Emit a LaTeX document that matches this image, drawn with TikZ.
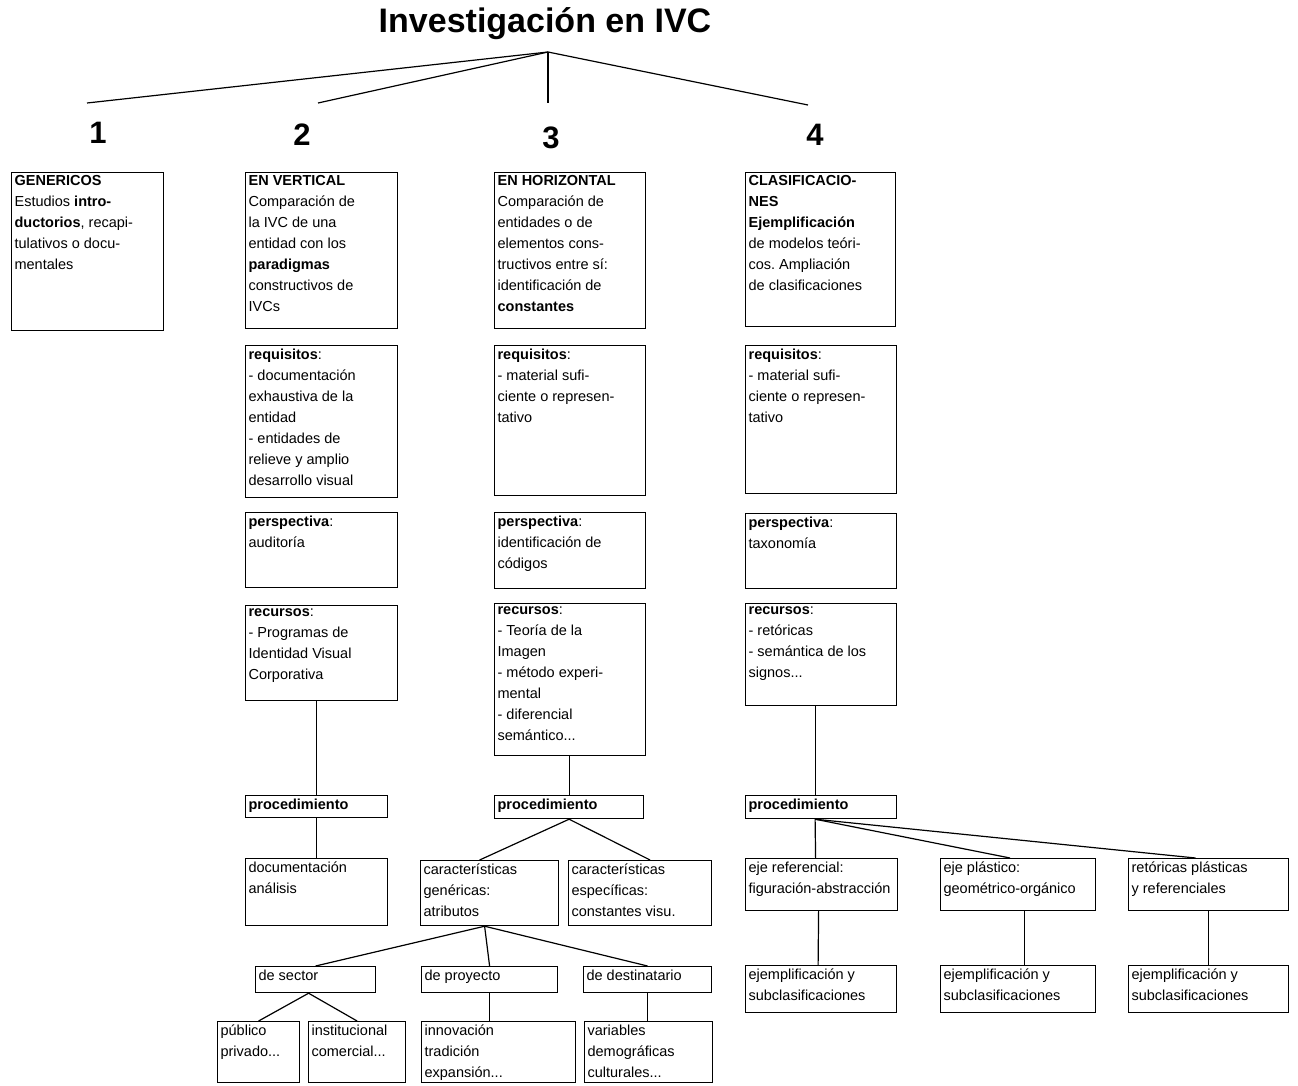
\documentclass[tikz,border=0pt]{standalone}
\usepackage{fontspec}
\setmainfont{Liberation Sans}
\newcommand{\cell}[3]{\parbox[t][#2pt][t]{#1pt}{\raggedright #3}}
\hbadness=10000
\frenchspacing

\begin{document}
\begin{tikzpicture}[x=1pt, y=-1pt, font=\fontsize{14.5}{21}\selectfont]
\tikzstyle{b} = [draw=black, line width=1.2pt, anchor=north west, inner xsep=3pt, inner ysep=3pt]
\tikzstyle{e} = [draw=black, line width=1.2pt]
\tikzstyle{num} = [font=\fontsize{31}{36}\selectfont\bfseries]

\useasboundingbox (0,0) rectangle (1298,1085);

\node[font=\fontsize{34}{40}\selectfont\bfseries] (top) at (545,24) {Investigación en IVC};
\coordinate (ap) at (548,52);
\coordinate (c1) at (87,103);
\coordinate (c2) at (318,103);
\coordinate (c3) at (548,103);
\coordinate (c4) at (808,105);
\node[num] (n1) at (98,133) {1};
\node[num] (n2) at (302,135) {2};
\node[num] (n3) at (551,138) {3};
\node[num] (n4) at (815,135) {4};

% 1
\node[b] (gen) at (11,172) {\cell{146}{152}{\textbf{GENERICOS}\\Estudios \textbf{intro-}\\\textbf{ductorios}, recapi-\\tulativos o docu-\\mentales}};

% 2
\node[b] (v0) at (245,172) {\cell{146}{150}{\textbf{EN VERTICAL}\\Comparación de\\la IVC de una\\entidad con los\\\textbf{paradigmas}\\constructivos de\\IVCs}};
\node[b] (vreq) at (245,345) {\cell{146}{146}{\textbf{requisitos}:\\- documentación\\exhaustiva de la\\entidad\\- entidades de\\relieve y amplio\\desarrollo visual}};
\node[b] (vper) at (245,512) {\cell{146}{69}{\textbf{perspectiva}:\\auditoría}};
\node[b] (vrec) at (245,605) {\cell{146}{89}{\textbf{recursos}:\\- Programas de\\Identidad Visual\\Corporativa}};
\node[b] (vproc) at (245,795) {\cell{136}{16}{\textbf{procedimiento}}};
\node[b] (vdoc) at (245,858) {\cell{136}{61}{documentación\\análisis}};

% 3
\node[b] (h0) at (494,172) {\cell{145}{150}{\textbf{EN HORIZONTAL}\\Comparación de\\entidades o de\\elementos cons-\\tructivos entre sí:\\identificación de\\\textbf{constantes}}};
\node[b] (hreq) at (494,345) {\cell{145}{144}{\textbf{requisitos}:\\- material sufi-\\ciente o represen-\\tativo}};
\node[b] (hper) at (494,512) {\cell{145}{70}{\textbf{perspectiva}:\\identificación de\\códigos}};
\node[b] (hrec) at (494,603) {\cell{145}{146}{\textbf{recursos}:\\- Teoría de la\\Imagen\\- método experi-\\mental\\- diferencial\\semántico...}};
\node[b] (hproc) at (494,795) {\cell{143}{17}{\textbf{procedimiento}}};
\node[b] (hgen) at (420,860) {\cell{132}{59}{características\\genéricas:\\atributos}};
\node[b] (hesp) at (568,860) {\cell{137}{59}{características\\específicas:\\constantes visu.}};
\node[b] (hsec) at (255,966) {\cell{114}{20}{de sector}};
\node[b] (hpro) at (421,966) {\cell{130}{20}{de proyecto}};
\node[b] (hdes) at (583,966) {\cell{122}{20}{de destinatario}};
\node[b] (hpub) at (217,1021) {\cell{76}{55}{público\\privado...}};
\node[b] (hins) at (308,1021) {\cell{91}{55}{institucional\\comercial...}};
\node[b] (hinn) at (421,1021) {\cell{148}{55}{innovación\\tradición\\expansión...}};
\node[b] (hvar) at (584,1021) {\cell{122}{55}{variables\\demográficas\\culturales...}};

% 4
\node[b] (k0) at (745,172) {\cell{144}{148}{\textbf{CLASIFICACIO-}\\\textbf{NES}\\\textbf{Ejemplificación}\\de modelos teóri-\\cos. Ampliación\\de clasificaciones}};
\node[b] (kreq) at (745,345) {\cell{145}{142}{\textbf{requisitos}:\\- material sufi-\\ciente o represen-\\tativo}};
\node[b] (kper) at (745,513) {\cell{145}{69}{\textbf{perspectiva}:\\taxonomía}};
\node[b] (krec) at (745,603) {\cell{145}{96}{\textbf{recursos}:\\- retóricas\\- semántica de los\\signos...}};
\node[b] (kproc) at (745,795) {\cell{145}{17}{\textbf{procedimiento}}};
\node[b] (kref) at (745,858) {\cell{146}{46}{eje referencial:\\figuración-abstracción}};
\node[b] (kpla) at (940,858) {\cell{149}{46}{eje plástico:\\geométrico-orgánico}};
\node[b] (kret) at (1128,858) {\cell{154}{46}{retóricas plásticas\\y referenciales}};
\node[b] (kej1) at (745,965) {\cell{145}{41}{ejemplificación y\\subclasificaciones}};
\node[b] (kej2) at (940,965) {\cell{149}{41}{ejemplificación y\\subclasificaciones}};
\node[b] (kej3) at (1128,965) {\cell{154}{41}{ejemplificación y\\subclasificaciones}};

\draw[e] (ap) to (c1);
\draw[e] (ap) to (c2);
\draw[e] (ap) to (c3);
\draw[e] (ap) to (c4);

\draw[e] (vproc.north |- vrec.south) to (vproc.north);
\draw[e] (vproc.south) to (vdoc.north);

\draw[e] (hproc.north |- hrec.south) to (hproc.north);
\draw[e] (hproc.south) to ([xshift=-10pt]hgen.north);
\draw[e] (hproc.south) to ([xshift=10pt]hesp.north);
\draw[e] ([xshift=-5pt]hgen.south) to (hsec.north);
\draw[e] ([xshift=-5pt]hgen.south) to (hpro.north);
\draw[e] ([xshift=-5pt]hgen.south) to (hdes.north);
\draw[e] ([xshift=-7pt]hsec.south) to (hpub.north);
\draw[e] ([xshift=-7pt]hsec.south) to (hins.north);
\draw[e] (hpro.south) to (hpro.south |- hinn.north);
\draw[e] (hdes.south) to (hdes.south |- hvar.north);

\draw[e] ([xshift=-6pt]krec.south) to ([xshift=-6pt]kproc.north);
\draw[e] ([xshift=-6pt]kproc.south) to ([xshift=-6pt]kref.north);
\draw[e] ([xshift=-6pt]kproc.south) to ([xshift=-8pt]kpla.north);
\draw[e] ([xshift=-6pt]kproc.south) to ([xshift=-13pt]kret.north);
\draw[e] ([xshift=-3pt]kref.south) to ([xshift=-3pt]kej1.north);
\draw[e] ([xshift=6pt]kpla.south) to ([xshift=6pt]kej2.north);
\draw[e] (kret.south) to (kej3.north);
\end{tikzpicture}
\end{document}
